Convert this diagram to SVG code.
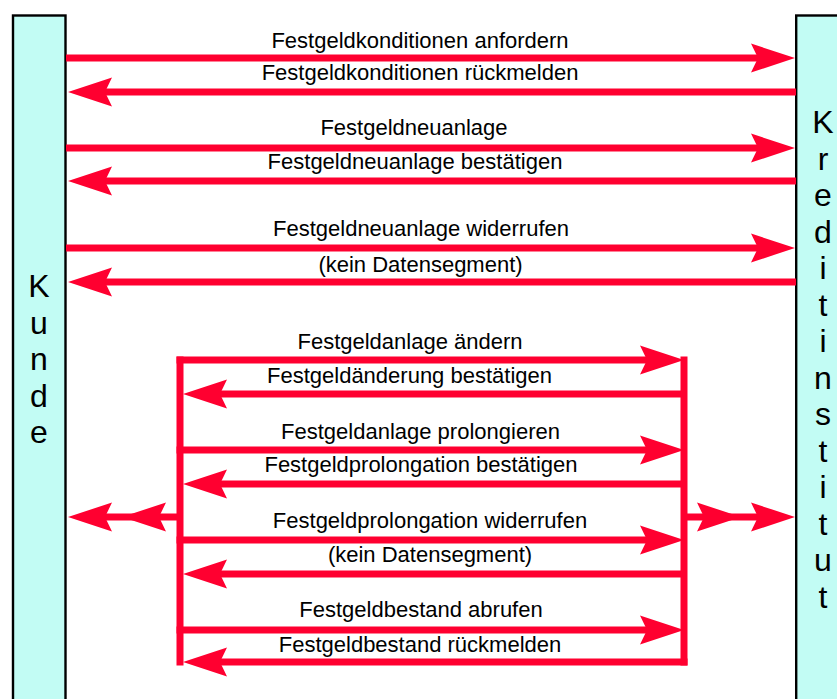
<svg xmlns="http://www.w3.org/2000/svg" width="837" height="699" viewBox="0 0 837 699">
<style>
.box{fill:#C2FCF4;stroke:#000;stroke-width:2.4}
.big{font-family:"Liberation Sans",Arial,sans-serif;font-size:32px;fill:#000;text-anchor:middle}
.lbl{font-family:"Liberation Sans",Arial,sans-serif;font-size:22px;fill:#000;text-anchor:middle}
.c{fill:none;stroke:#FF0030;stroke-width:7;marker-end:url(#ah)}
.cm{fill:none;stroke:#FF0030;stroke-width:7;marker-mid:url(#ah);marker-end:url(#ah)}
.br{fill:none;stroke:#FF0030;stroke-width:7}
</style>
<defs>
<marker id="ah" viewBox="0 0 44 29" refX="7" refY="14.5" markerWidth="44" markerHeight="29" markerUnits="userSpaceOnUse" orient="auto" overflow="visible">
<path d="M0,0 L44,14.5 L0,29 L7,14.5 z" fill="#FF0030"/>
</marker>
</defs>
<rect width="837" height="699" fill="#fff"/>
<g id="kunde">
<rect class="box" x="13" y="15.5" width="52.5" height="700"/>
<text class="big" x="39"><tspan x="39" y="297">K</tspan><tspan x="39" y="333.5">u</tspan><tspan x="39" y="370">n</tspan><tspan x="39" y="406.5">d</tspan><tspan x="39" y="443">e</tspan></text>
</g>
<g id="kreditinstitut">
<rect class="box" x="796.2" y="15.5" width="52.5" height="700"/>
<text class="big" x="823"><tspan x="823" y="133">K</tspan><tspan x="823" y="169.5">r</tspan><tspan x="823" y="206">e</tspan><tspan x="823" y="242.5">d</tspan><tspan x="823" y="279">i</tspan><tspan x="823" y="315.5">t</tspan><tspan x="823" y="352">i</tspan><tspan x="823" y="388.5">n</tspan><tspan x="823" y="425">s</tspan><tspan x="823" y="461.5">t</tspan><tspan x="823" y="498">i</tspan><tspan x="823" y="534.5">t</tspan><tspan x="823" y="571">u</tspan><tspan x="823" y="607.5">t</tspan></text>
</g>
<g id="connectors">
<path class="br" d="M180,356.5 V665.5 M684,356.5 V665.5"/>
<path class="c" d="M66,58 H758"/>
<path class="c" d="M796,92 H105"/>
<path class="c" d="M66,148 H758"/>
<path class="c" d="M796,181 H105"/>
<path class="c" d="M66,248 H758"/>
<path class="c" d="M796,282 H105"/>
<path class="c" d="M176.5,360 H647"/>
<path class="c" d="M684,394 H220"/>
<path class="c" d="M176.5,450 H647"/>
<path class="c" d="M684,484 H220"/>
<path class="c" d="M176.5,540 H647"/>
<path class="c" d="M684,574 H220"/>
<path class="c" d="M176.5,630 H647"/>
<path class="c" d="M687.5,662 H220"/>
<path class="cm" d="M180,517 H159 H105"/>
<path class="cm" d="M684,517 H704 H758"/>
</g>
<g id="labels">
<text class="lbl" x="420" y="48">Festgeldkonditionen anfordern</text>
<text class="lbl" x="420" y="80">Festgeldkonditionen rückmelden</text>
<text class="lbl" x="414" y="135">Festgeldneuanlage</text>
<text class="lbl" x="415" y="169">Festgeldneuanlage bestätigen</text>
<text class="lbl" x="421" y="236">Festgeldneuanlage widerrufen</text>
<text class="lbl" x="420.5" y="272">(kein Datensegment)</text>
<text class="lbl" x="410" y="349">Festgeldanlage ändern</text>
<text class="lbl" x="409.5" y="383">Festgeldänderung bestätigen</text>
<text class="lbl" x="420.5" y="439">Festgeldanlage prolongieren</text>
<text class="lbl" x="421" y="472">Festgeldprolongation bestätigen</text>
<text class="lbl" x="430" y="528">Festgeldprolongation widerrufen</text>
<text class="lbl" x="430" y="562">(kein Datensegment)</text>
<text class="lbl" x="421" y="617">Festgeldbestand abrufen</text>
<text class="lbl" x="420" y="652">Festgeldbestand rückmelden</text>
</g>
</svg>
